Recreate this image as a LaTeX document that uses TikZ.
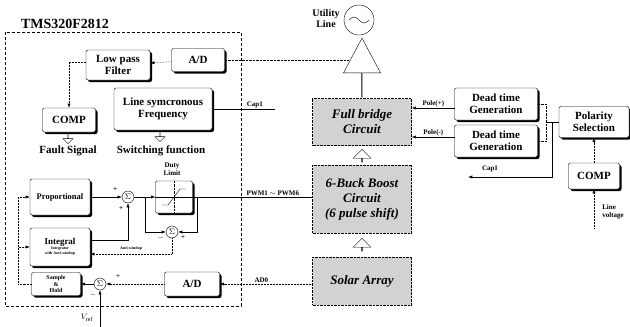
\documentclass[tikz,border=0pt]{standalone}
\usepackage{fontspec}
\setmainfont{Liberation Serif}
\usetikzlibrary{arrows.meta,positioning,shapes.arrows,shadows}

\begin{document}
\begin{tikzpicture}[x=1pt,y=-1pt,
  every node/.style={font=\bfseries\fontsize{11}{12}\selectfont},
  blk/.style={draw,line width=0.4pt,rounded corners=2pt,fill=white,align=center,inner sep=1pt,
    drop shadow={shadow xshift=2pt,shadow yshift=-2pt,fill=black,opacity=1}},
  gblk/.style={draw,densely dotted,fill=gray!35,align=center,font=\bfseries\itshape\fontsize{13}{15}\selectfont},
  sm/.style={font=\bfseries\fontsize{7}{8}\selectfont,inner sep=1pt},
  sumc/.style={circle,draw,fill=white,inner sep=0pt,minimum size=12,font=\fontsize{8}{8}\selectfont},
  hol/.style={single arrow,draw,fill=white,inner sep=0pt,single arrow head extend=4,minimum height=13,minimum width=18},
  ar/.style={-{Latex[length=1.5mm]},line width=0.5pt}]
\useasboundingbox (0,0) rectangle (630,327);
\node[font=\bfseries\fontsize{14}{15}\selectfont] (dsp) at (65,24) {TMS320F2812};
\draw[densely dashed] (5,32) rectangle (241,306);
\node[blk,minimum width=64,minimum height=30] (lpf) at (118,65) {Low pass\\Filter};
\node[blk,minimum width=53,minimum height=23] (adt) at (198,60) {A/D};
\node[blk,minimum width=98,minimum height=42] (lsf) at (163,109) {Line symcronous\\Frequency};
\node[blk,minimum width=53,minimum height=24] (cmpl) at (69,120) {COMP};
\node[hol,rotate=-90,minimum height=9,minimum width=10] (fa) at (68,139) {};
\node[hol,rotate=-90,minimum height=9,minimum width=10] (sw) at (160,137) {};
\node (flt) at (68,151) {Fault Signal};
\node (swf) at (161,151) {Switching function};
\node[sm,align=center] (dlab) at (172,169) {Duty\\Limit};
\node[blk,minimum width=60,minimum height=36,font=\bfseries\fontsize{8.5}{9}\selectfont] (prop) at (60,197) {Proportional};
\node[blk,minimum width=60,minimum height=38,font=\bfseries\fontsize{4}{5}\selectfont] (intg) at (60,247) {{\fontsize{9}{10}\selectfont Integral}\\Integrator\\with Anti-windup};
\node[blk,minimum width=49,minimum height=23,font=\bfseries\fontsize{6}{6.5}\selectfont] (sh) at (56,284) {Sample\\\&\\Hold};
\node[blk,minimum width=37,minimum height=32] (duty) at (174,197) {};
\node[blk,minimum width=55,minimum height=24] (adb) at (192,284) {A/D};
\node[sumc] (s1) at (128,197) {$\Sigma$};
\node[sumc] (s2) at (172,232) {$\Sigma$};
\node[sumc] (s3) at (100,284) {$\Sigma$};
\node[gblk,minimum width=99,minimum height=47] (fb) at (362,122) {Full bridge\\Circuit};
\node[gblk,minimum width=99,minimum height=68] (bb) at (362,199) {6-Buck Boost\\Circuit\\(6 pulse shift)};
\node[gblk,minimum width=99,minimum height=48] (sol) at (362,281) {Solar Array};
\node[hol,rotate=90] (h1) at (362,156) {};
\node[hol,rotate=90] (h2) at (362,245) {};
\node[single arrow,draw,fill=white,rotate=90,minimum height=59,minimum width=37,single arrow head extend=8,single arrow tip angle=56,inner sep=0] (up) at (362,68) {};
\node[circle,draw,minimum size=30] (util) at (359,20) {};
\node[font=\bfseries\fontsize{10}{11}\selectfont,align=center] (ulab) at (326,19) {Utility\\Line};
\node[blk,minimum width=83,minimum height=32] (dt1) at (496,104) {Dead time\\Generation};
\node[blk,minimum width=83,minimum height=32] (dt2) at (496,141) {Dead time\\Generation};
\node[blk,minimum width=70,minimum height=31] (pol) at (594,122) {Polarity\\Selection};
\node[blk,minimum width=51,minimum height=26] (cmpr) at (594,176) {COMP};
\node[sm,align=left] (lvl) at (613,212) {Line\\voltage};
\coordinate (uin) at (348,60);
\coordinate (cp1) at (275,109);
\coordinate (fbk) at (18,284);
\coordinate (b1) at (145,197);
\coordinate (b2) at (197,197);
\coordinate (vref) at (100,327);
\coordinate (p1) at (455,108);
\coordinate (p2) at (455,137);
\coordinate (pj) at (546,122);
\coordinate (cj) at (552,122);
\coordinate (cap2) at (468,177);
\coordinate (lv) at (594,228);
\draw ([xshift=-10pt]util.center) sin ++(5,-3) cos ++(5,3) sin ++(5,3) cos ++(5,-3);
\draw (duty.west) -- (duty.east);
\draw[densely dotted] (duty.north) -- (duty.south);
\draw ([shift={(-12,8)}]duty.center) -- ([shift={(-6,8)}]duty.center) -- ([shift={(6,-8)}]duty.center) -- ([shift={(12,-8)}]duty.center);
\draw[ar,densely dotted] (adt) -- (lpf);
\draw[densely dotted] (adt) -- (uin);
\draw[ar,densely dotted] ([yshift=3pt]lpf.west) -| (cmpl);
\draw (lsf) -- node[sm,above,pos=0.68]{Cap1} (cp1);
\draw[densely dotted] (sh) -- (fbk);
\draw[ar,densely dotted] (fbk) |- (prop);
\draw[ar,densely dotted] (fbk) |- (intg);
\draw[ar] (prop) -- (s1);
\draw[ar] ([yshift=7pt]intg.east) -| (s1);
\draw[ar] (s1) -- (duty);
\draw[ar] (b1) |- (s2);
\draw[ar] (b2) |- (s2);
\draw[ar,densely dotted] (s2) |- node[pos=0.75,above,font=\bfseries\fontsize{4}{5}\selectfont]{Anti-windup} ([yshift=-7pt]intg.east);
\draw (duty) -- node[sm,above,pos=0.67]{PWM1 $\sim$ PWM6} (duty -| bb.west);
\draw[ar,densely dotted] (sol.west |- adb) -- node[sm,above,pos=0.55]{AD0} (adb);
\draw[ar,densely dotted] (adb) -- (s3);
\draw[ar] (s3) -- (sh);
\draw[ar] (vref) -- (s3);
\node[sm] at (115,190) {+};
\node[sm] at (121,209) {+};
\node[sm] at (161,238) {$-$};
\node[sm] at (183,238) {+};
\node[sm] at (118,277) {+};
\node[sm] at (93,295) {$-$};
\node[font=\bfseries\fontsize{8}{9}\selectfont] at (87,318) {$V_{\mathrm{ref}}$};
\draw[ar] (p1) -- node[sm,above]{Pole(+)} (p1 -| fb.east);
\draw[ar] (p2) -- node[sm,above]{Pole(-)} (p2 -| fb.east);
\draw (pol) -- (pj);
\draw[densely dotted] (dt1) -| (pj) |- (dt2);
\draw[ar] (cj) |- (cap2);
\node[sm] at (490,169) {Cap1};
\draw[ar,densely dotted] (cmpr) -- (pol);
\draw[ar,densely dotted] (lv) -- (cmpr);
\end{tikzpicture}
\end{document}
